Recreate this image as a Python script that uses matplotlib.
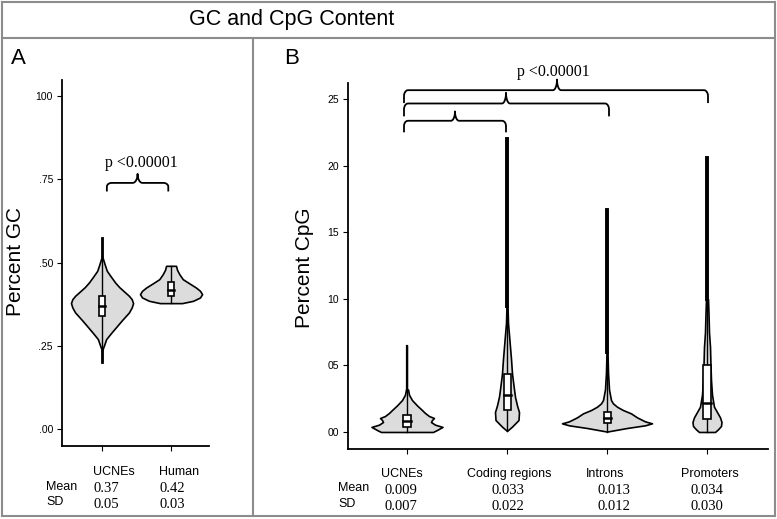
import matplotlib
matplotlib.use('Agg')
import matplotlib.pyplot as plt
from matplotlib import font_manager
from matplotlib.lines import Line2D
from matplotlib.patches import Rectangle
import numpy as np

names = {f.name for f in font_manager.fontManager.ttflist}
NARROW = 'Liberation Sans Narrow' if 'Liberation Sans Narrow' in names else 'Liberation Sans'
SANS = 'Liberation Sans'
SERIF = 'Liberation Serif'

# ---- panel A: GC content ----
gc_groups = ['UCNEs', 'Human']
gc_mean = ['0.37', '0.42']
gc_sd = ['0.05', '0.03']
# violin outline: y value and half width (x units)
gc_ucne_y = [0.235, 0.252, 0.27, 0.288, 0.31, 0.327, 0.35, 0.365, 0.378, 0.39, 0.40,
             0.413, 0.426, 0.44, 0.46, 0.475, 0.487, 0.50, 0.52]
gc_ucne_w = [0.0, 0.03, 0.06, 0.13, 0.22, 0.29, 0.39, 0.43, 0.45, 0.43, 0.39,
             0.32, 0.25, 0.19, 0.12, 0.07, 0.05, 0.03, 0.0]
gc_human_y = [0.378, 0.385, 0.395, 0.405, 0.415, 0.425, 0.438, 0.45, 0.465, 0.478, 0.49]
gc_human_w = [0.16, 0.32, 0.42, 0.45, 0.42, 0.36, 0.26, 0.17, 0.12, 0.087, 0.072]
gc_box = [(0.34, 0.369, 0.40), (0.40, 0.417, 0.44)]   # q1, median, q3
gc_range = [(0.20, 0.573), (0.378, 0.49)]            # lowest / highest point

# ---- panel B: CpG content ----
cpg_groups = ['UCNEs', 'Coding regions', 'Introns', 'Promoters']
cpg_mean = ['0.009', '0.033', '0.013', '0.034']
cpg_sd = ['0.007', '0.022', '0.012', '0.030']
cpg_ucne_y = [0.0, 0.15, 0.38, 0.55, 0.75, 0.9, 1.05, 1.2, 1.43, 1.65, 2.0, 2.4, 2.8, 3.2]
cpg_ucne_w = [0.26, 0.30, 0.355, 0.28, 0.24, 0.25, 0.27, 0.22, 0.18, 0.15, 0.10, 0.05, 0.02, 0.01]
cpg_coding_y = [0.08, 0.4, 0.9, 1.5, 2.0, 2.65, 3.5, 4.4, 5.5, 6.4, 7.3, 8.2, 9.5]
cpg_coding_w = [0.0, 0.05, 0.115, 0.12, 0.10, 0.08, 0.065, 0.05, 0.04, 0.03, 0.02, 0.01, 0.005]
cpg_intron_y = [0.03, 0.3, 0.5, 0.65, 0.8, 1.1, 1.4, 1.65, 1.9, 2.15, 2.4, 3.2, 4.5, 6.0]
cpg_intron_w = [0.0, 0.20, 0.38, 0.45, 0.38, 0.30, 0.24, 0.16, 0.10, 0.06, 0.04, 0.02, 0.01, 0.005]
cpg_prom_y = [0.0, 0.2, 0.45, 0.75, 1.1, 1.5, 1.9, 2.8, 3.9, 5.0, 6.4, 7.5, 8.9, 10.0]
cpg_prom_w = [0.08, 0.11, 0.14, 0.145, 0.13, 0.10, 0.07, 0.05, 0.04, 0.035, 0.03, 0.02, 0.015, 0.01]
cpg_box = [(0.38, 0.83, 1.28), (1.65, 2.78, 4.35), (0.7, 1.05, 1.5), (1.0, 2.2, 5.0)]
cpg_range = [(0.0, 6.5), (0.08, 22.0), (0.03, 16.7), (0.0, 20.6)]

W, H = 777, 519
fig = plt.figure(figsize=(W / 100, H / 100), dpi=100)


def fx(px):
    return px / W


def fy(py):
    return 1 - py / H


def violin(ax, pos, ys, ws, box, rng, bw, tail_lw):
    ys = np.array(ys)
    ws = np.array(ws)
    ax.fill_betweenx(ys, pos - ws, pos + ws, facecolor='#dcdcdc', edgecolor='black',
                     linewidth=1.2, zorder=2)
    ax.plot([pos, pos], [rng[0], rng[1]], color='black', lw=1.0, zorder=3)
    # dense outliers drawn as thick columns
    if rng[1] > ys[-1]:
        ax.plot([pos, pos], [ys[-1], rng[1]], color='black', lw=tail_lw, zorder=3)
    if rng[0] < ys[0]:
        ax.plot([pos, pos], [rng[0], ys[0]], color='black', lw=tail_lw, zorder=3)
    q1, med, q3 = box
    ax.add_patch(Rectangle((pos - bw, q1), 2 * bw, q3 - q1, facecolor='white',
                           edgecolor='black', linewidth=1.2, zorder=4))
    ax.plot([pos - bw, pos + bw], [med, med], color='black', lw=1.8, zorder=5)


def brace(ax, x1, x2, xm, y, yend, ytip, rx):
    ry = (y - yend) * 0.5
    t = np.linspace(np.pi, np.pi / 2, 10)
    px = [x1]
    py = [yend]
    px += list(x1 + rx + rx * np.cos(t))
    py += list(y - ry + ry * np.sin(t))
    t = np.linspace(-np.pi / 2, 0, 10)
    px += list(xm - rx + rx * np.cos(t))
    py += list(ytip + (ytip - y) * np.sin(t))
    t = np.linspace(np.pi, 3 * np.pi / 2, 10)
    px += list(xm + rx + rx * np.cos(t))
    py += list(ytip + (ytip - y) * np.sin(t))
    t = np.linspace(np.pi / 2, 0, 10)
    px += list(x2 - rx + rx * np.cos(t))
    py += list(y - ry + ry * np.sin(t))
    px += [x2]
    py += [yend]
    ax.plot(px, py, color='black', lw=1.3, clip_on=False, zorder=6)


def style(ax):
    for s in ['top', 'right']:
        ax.spines[s].set_visible(False)
    for s in ['left', 'bottom']:
        ax.spines[s].set_linewidth(1.3)
    ax.tick_params(length=3.5, width=0.8, labelsize=7.5, pad=3)
    for lab in ax.get_yticklabels():
        lab.set_family(SANS)


# panel A axes
axA = fig.add_axes([fx(62), fy(446), fx(209) - fx(62), fy(80) - fy(446)])
axA.set_xlim(0.42, 2.55)
axA.set_ylim(-0.051, 1.048)
violin(axA, 1, gc_ucne_y, gc_ucne_w, gc_box[0], gc_range[0], 0.045, 2.0)
violin(axA, 2, gc_human_y, gc_human_w, gc_box[1], gc_range[1], 0.045, 2.0)
axA.set_xticks([1, 2])
axA.set_xticklabels([])
axA.set_yticks([0, 0.25, 0.5, 0.75, 1.0])
axA.set_yticklabels(['.00', '.25', '.50', '.75', '100'])
style(axA)
brace(axA, 1.07, 1.96, 1.515, 0.739, 0.716, 0.766, 0.07)
axA.text(1.565, 0.80, 'p <0.00001', ha='center', va='center', fontsize=11.5,
         family=SERIF, clip_on=False)

# panel B axes
axB = fig.add_axes([fx(348), fy(449), fx(768) - fx(348), fy(83) - fy(449)])
axB.set_xlim(0.41, 4.61)
axB.set_ylim(-1.28, 26.24)
violin(axB, 1, cpg_ucne_y, cpg_ucne_w, cpg_box[0], cpg_range[0], 0.04, 1.6)
violin(axB, 2, cpg_coding_y, cpg_coding_w, cpg_box[1], cpg_range[1], 0.035, 2.8)
violin(axB, 3, cpg_intron_y, cpg_intron_w, cpg_box[2], cpg_range[2], 0.035, 2.8)
violin(axB, 4, cpg_prom_y, cpg_prom_w, cpg_box[3], cpg_range[3], 0.04, 2.8)
axB.set_xticks([1, 2, 3, 4])
axB.set_xticklabels([])
axB.set_yticks([0, 5, 10, 15, 20, 25])
axB.set_yticklabels(['00', '05', '10', '15', '20', '25'])
style(axB)
brace(axB, 0.97, 1.99, 1.48, 23.4, 22.6, 24.1, 0.04)
brace(axB, 0.97, 3.02, 1.99, 24.7, 23.8, 25.5, 0.04)
brace(axB, 0.97, 4.01, 2.50, 25.7, 24.8, 26.5, 0.04)
axB.text(2.46, 27.1, 'p <0.00001', ha='center', va='center', fontsize=11.5,
         family=SERIF, clip_on=False)

# frame, title and panel letters
grey = '#8c8c8c'
for (x0, y0, x1, y1) in [(2, 2, 775, 2), (2, 516, 775, 516), (2, 2, 2, 516),
                         (775, 2, 775, 516), (2, 38, 775, 38), (253, 38, 253, 516)]:
    fig.add_artist(Line2D([fx(x0), fx(x1)], [fy(y0), fy(y1)], color=grey, lw=1.5))
fig.text(fx(292), fy(20), 'GC and CpG Content', ha='center', va='center',
         fontsize=15.5, family=NARROW)
fig.text(fx(18), fy(58), 'A', ha='center', va='center', fontsize=16, family=SANS)
fig.text(fx(292), fy(58), 'B', ha='center', va='center', fontsize=16, family=SANS)
fig.text(fx(16), fy(262), 'Percent GC', rotation=90, ha='center', va='center',
         fontsize=15, family=SANS)
fig.text(fx(305), fy(268), 'Percent CpG', rotation=90, ha='center', va='center',
         fontsize=15, family=SANS)

# summary tables under the axes
lab_kw = dict(fontsize=9, family=NARROW, va='center')
val_kw = dict(fontsize=10.5, family=SERIF, va='center')
for x, g, m, s in zip([93, 159], gc_groups, gc_mean, gc_sd):
    fig.text(fx(x), fy(472), g, ha='left', **lab_kw)
    fig.text(fx(x), fy(489), m, ha='left', **val_kw)
    fig.text(fx(x), fy(505), s, ha='left', **val_kw)
fig.text(fx(46), fy(487), 'Mean', ha='left', **lab_kw)
fig.text(fx(46), fy(502), 'SD', ha='left', **lab_kw)

for xl, xv, g, m, s in zip([402, 509, 605, 710], [401, 508, 614, 707],
                           cpg_groups, cpg_mean, cpg_sd):
    fig.text(fx(xl), fy(474), g, ha='center', **lab_kw)
    fig.text(fx(xv), fy(491), m, ha='center', **val_kw)
    fig.text(fx(xv), fy(507), s, ha='center', **val_kw)
fig.text(fx(338), fy(488), 'Mean', ha='left', **lab_kw)
fig.text(fx(338), fy(504), 'SD', ha='left', **lab_kw)

fig.savefig('out.png', dpi=100)
